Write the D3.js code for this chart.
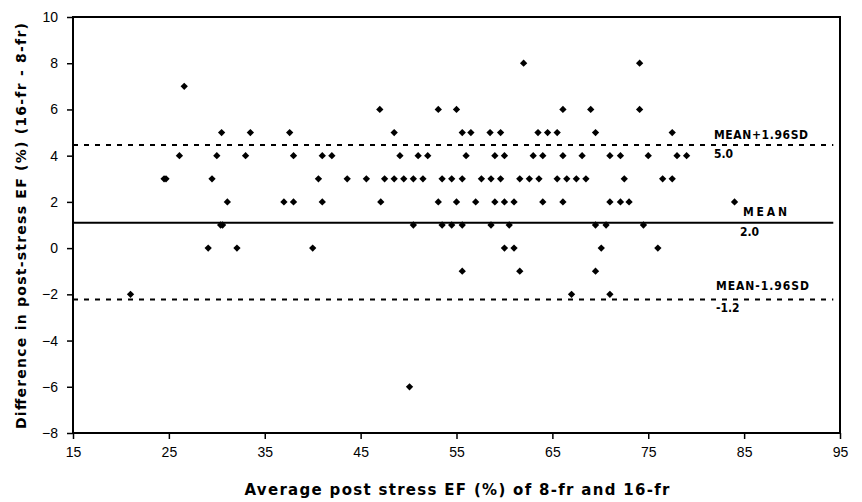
<!DOCTYPE html>
<html>
<head>
<meta charset="utf-8">
<script src="https://cdn.jsdelivr.net/npm/d3@7"></script>
<style>
  body { margin: 0; background: #fff; }
  text { font-family: "Liberation Sans", Arial, sans-serif; }
</style>
</head>
<body>
<div id="chart"></div>
<script>
// average EF of the two methods (x) and their difference (y), one entry per patient
const avgEF = [
    62.0, 74.1,
    26.6,
    47.0, 53.1, 55.0, 66.1, 69.0, 74.1,
    30.5, 33.5, 37.6, 48.5, 55.6, 56.5, 58.5, 59.6, 63.5, 64.5, 65.5, 69.5, 77.5,
    26.1, 30.0, 33.0, 38.0, 41.0, 42.0, 49.1, 51.0, 52.0, 56.0, 59.0, 60.0, 63.0, 64.0, 66.1, 68.1, 71.0, 72.1, 75.0, 78.0, 79.0,
    24.5, 24.7, 29.5, 40.6, 43.6, 45.6, 47.5, 48.5, 49.5, 50.5, 51.5, 53.5, 54.5, 55.6, 57.6, 58.6, 59.6, 61.6, 62.6, 63.6, 65.5, 66.5, 67.5, 68.5, 72.5, 76.5, 77.5,
    31.1, 37.0, 38.0, 41.0, 47.1, 53.1, 55.0, 57.0, 59.0, 60.0, 61.0, 64.0, 66.1, 71.0, 72.1, 73.0, 84.0,
    30.4, 30.6, 50.5, 53.5, 54.5, 55.6, 58.6, 60.5, 69.5, 70.6, 74.5,
    29.1, 32.1, 40.0, 60.0, 61.0, 70.1, 76.0,
    55.6, 61.6, 69.5,
    21.0, 67.0, 71.0,
    50.1
];
const diffEF = [
    8, 8,
    7,
    6, 6, 6, 6, 6, 6,
    5, 5, 5, 5, 5, 5, 5, 5, 5, 5, 5, 5, 5,
    4, 4, 4, 4, 4, 4, 4, 4, 4, 4, 4, 4, 4, 4, 4, 4, 4, 4, 4, 4, 4,
    3, 3, 3, 3, 3, 3, 3, 3, 3, 3, 3, 3, 3, 3, 3, 3, 3, 3, 3, 3, 3, 3, 3, 3, 3, 3, 3,
    2, 2, 2, 2, 2, 2, 2, 2, 2, 2, 2, 2, 2, 2, 2, 2, 2,
    1, 1, 1, 1, 1, 1, 1, 1, 1, 1, 1,
    0, 0, 0, 0, 0, 0, 0,
    -1, -1, -1,
    -2, -2, -2,
    -6
];

// reference lines: mean difference and limits of agreement
const refNames = ["MEAN+1.96SD", "MEAN", "MEAN-1.96SD"];
const refValues = [4.46, 1.1, -2.22];
const refLabels = ["5.0", "2.0", "-1.2"];

const xTicks = [15, 25, 35, 45, 55, 65, 75, 85, 95];
const yTicks = [-8, -6, -4, -2, 0, 2, 4, 6, 8, 10];

var margin = {top: 17, right: 22, bottom: 69, left: 73},
    width = 862 - margin.left - margin.right,
    height = 502 - margin.top - margin.bottom;

const svg = d3.select('#chart')
    .append('svg')
    .attr('width', 862)
    .attr('height', 502)
    .append('g')
    .attr('transform', `translate(${margin.left},${margin.top})`);

const x = d3.scaleLinear().domain([15, 95]).range([0, width]);
const y = d3.scaleLinear().domain([-8, 10]).range([height, 0]);

// axes
svg.append("g")
    .attr("transform", `translate(0, ${height})`)
    .call(d3.axisBottom(x).tickValues(xTicks).tickSize(6).tickPadding(8))
    .call(g => g.select(".domain").remove())
    .call(g => g.selectAll("line").attr("stroke", "#000").attr("stroke-width", 1.5))
    .selectAll("text").style("font-size", "14px").style("fill", "#000");

svg.append("g")
    .call(d3.axisLeft(y).tickValues(yTicks).tickSize(6).tickPadding(9))
    .call(g => g.select(".domain").remove())
    .call(g => g.selectAll("line").attr("stroke", "#000").attr("stroke-width", 1.5))
    .selectAll("text").style("font-size", "14px").style("fill", "#000");

// plot frame
svg.append("rect")
    .attr("x", 0).attr("y", 0)
    .attr("width", width).attr("height", height)
    .attr("fill", "none")
    .attr("stroke", "#000")
    .attr("stroke-width", 2);

// mean and limit lines
svg.selectAll(".refline")
    .data(refValues)
    .enter().append("line")
    .attr("class", "refline")
    .attr("x1", x(15))
    .attr("x2", x(94.3))
    .attr("y1", d => y(d))
    .attr("y2", d => y(d))
    .attr("stroke", "#000")
    .attr("stroke-width", 2)
    .attr("stroke-dasharray", (d, i) => i === 1 ? null : "5,6");

// points
const points = avgEF.map((a, i) => ({avg: a, diff: diffEF[i]}));
svg.selectAll(".pt")
    .data(points)
    .enter().append("path")
    .attr("class", "pt")
    .attr("transform", d => `translate(${x(d.avg)}, ${y(d.diff)})`)
    .attr("d", d3.symbol().type(d3.symbolDiamond2).size(34))
    .attr("fill", "#000");

// line labels
const labelX = [714, 743, 716];
const nameDy = [-6, -7, -9];
const valDy = [13, 13, 13];
const nameLen = [94, 44, 93];
refNames.forEach(function (name, i) {
    svg.append("text")
        .attr("x", labelX[i] - margin.left)
        .attr("y", y(refValues[i]) + nameDy[i])
        .style("font-family", "'DejaVu Sans Condensed', 'DejaVu Sans', sans-serif")
        .style("font-size", "12px")
        .style("font-weight", "bold")
        .attr("textLength", nameLen[i])
        .text(name);
    svg.append("text")
        .attr("x", labelX[i] - margin.left - (i === 1 ? 3 : 0))
        .attr("y", y(refValues[i]) + valDy[i])
        .style("font-family", "'DejaVu Sans Condensed', 'DejaVu Sans', sans-serif")
        .style("font-size", "12px")
        .style("font-weight", "bold")
        .text(refLabels[i]);
});

// axis titles
svg.append("text")
    .attr("x", 457 - margin.left)
    .attr("y", height + 62)
    .attr("text-anchor", "middle")
    .style("font-family", "'DejaVu Sans', Verdana, sans-serif")
    .style("font-size", "15px")
    .style("font-weight", "bold")
    .attr("textLength", 425)
    .text("Average post stress EF (%) of 8-fr and 16-fr");

svg.append("text")
    .attr("transform", `translate(${-margin.left + 26}, ${226 - margin.top}) rotate(-90)`)
    .attr("text-anchor", "middle")
    .style("font-family", "'DejaVu Sans', Verdana, sans-serif")
    .style("font-size", "14px")
    .style("font-weight", "bold")
    .attr("textLength", 406)
    .text("Difference in post-stress EF (%) (16-fr - 8-fr)");
</script>
</body>
</html>
